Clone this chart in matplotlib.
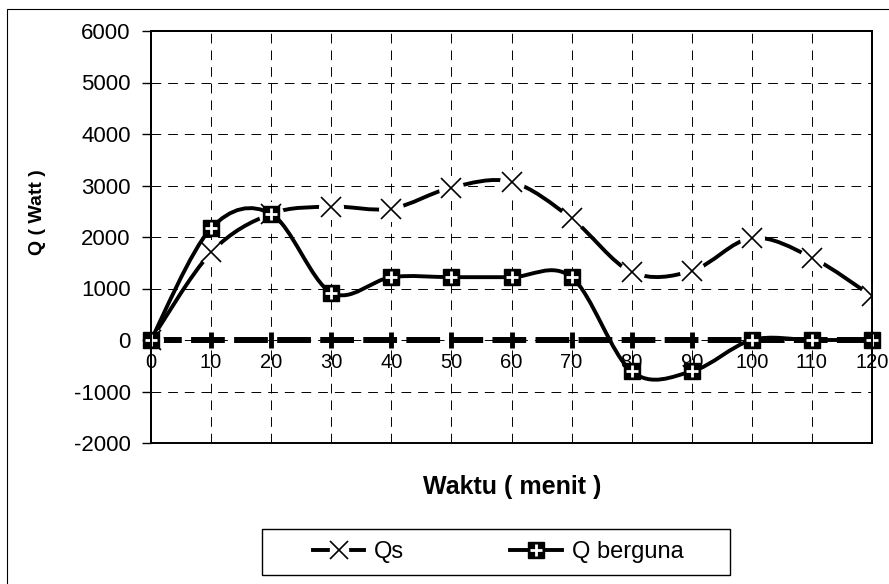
import matplotlib
matplotlib.use("Agg")
import matplotlib.pyplot as plt
from matplotlib.path import Path
from matplotlib.patches import PathPatch, Rectangle
from matplotlib.lines import Line2D

plt.rcParams['font.family'] = ['Liberation Sans', 'DejaVu Sans']
plt.rcParams['lines.scale_dashes'] = False
plt.rcParams['axes.unicode_minus'] = False

waktu = [0, 10, 20, 30, 40, 50, 60, 70, 80, 90, 100, 110, 120]
qs = [0, 1700, 2450, 2590, 2550, 2960, 3070, 2360, 1320, 1340, 1980, 1600, 850]
q_berguna = [0, 2170, 2450, 920, 1220, 1220, 1220, 1220, -610, -610, 0, 0, 0]

y_ticks = [-2000, -1000, 0, 1000, 2000, 3000, 4000, 5000, 6000]

W, H = 889, 584


def smooth_path(xs, ys):
    # bezier through the points, like the "smoothed line" option of a spreadsheet
    pts = list(zip(xs, ys))
    n = len(pts)
    verts = [pts[0]]
    codes = [Path.MOVETO]
    for i in range(n - 1):
        p0 = pts[i - 1] if i > 0 else pts[i]
        p1 = pts[i]
        p2 = pts[i + 1]
        p3 = pts[i + 2] if i + 2 < n else pts[i + 1]
        c1 = (p1[0] + (p2[0] - p0[0]) / 6, p1[1] + (p2[1] - p0[1]) / 6)
        c2 = (p2[0] - (p3[0] - p1[0]) / 6, p2[1] - (p3[1] - p1[1]) / 6)
        verts += [c1, c2, p2]
        codes += [Path.CURVE4] * 3
    return Path(verts, codes)


fig = plt.figure(figsize=(W / 100, H / 100), dpi=100)

# outer chart border (only top and left visible in the picture)
fig.patches.append(
    Rectangle(
        (7 / W, -0.1),
        1.2,
        1.1 - 9 / H,
        transform=fig.transFigure,
        fill=False,
        edgecolor='black',
        linewidth=0.8,
        clip_on=False
    )
)

ax = fig.add_axes([
    151 / W,
    (H - 443) / H,
    (872 - 151) / W,
    (443 - 31) / H
])

ax.set_xlim(0, 120)
ax.set_ylim(-2000, 6000)
ax.set_xticks(waktu)
ax.set_yticks(y_ticks)

ax.grid(
    True,
    color='black',
    linestyle=(0, (7, 5)),
    linewidth=0.7
)

for side in ['top', 'right', 'left']:
    ax.spines[side].set_linewidth(1.4)

# x axis crosses at zero as a thick dashed line
ax.spines['bottom'].set_position(('data', 0))
ax.spines['bottom'].set_linewidth(4.3)
ax.spines['bottom'].set_linestyle((0, (20, 11)))
ax.spines['bottom'].set_zorder(1.6)

ax.add_patch(
    Rectangle(
        (0, 0),
        1,
        1,
        transform=ax.transAxes,
        fill=False,
        edgecolor='black',
        linewidth=1.4,
        clip_on=False,
        zorder=1.7
    )
)

ax.tick_params(
    axis='x',
    direction='inout',
    length=12,
    width=3.5,
    pad=3,
    labelsize=14.5
)

ax.tick_params(
    axis='y',
    direction='out',
    length=6.5,
    width=1,
    pad=8,
    labelsize=16
)

# Qs line with gaps around the X markers
ax.add_patch(
    PathPatch(
        smooth_path(waktu, qs),
        facecolor='none',
        edgecolor='black',
        linewidth=2.8,
        zorder=2
    )
)
ax.plot(
    waktu,
    qs,
    linestyle='none',
    marker='o',
    markersize=18,
    markerfacecolor='white',
    markeredgewidth=0,
    zorder=2.1
)
ax.plot(
    waktu,
    qs,
    linestyle='none',
    marker='x',
    markersize=15,
    markeredgewidth=1.2,
    color='black',
    zorder=2.2
)

# Q berguna
ax.add_patch(
    PathPatch(
        smooth_path(waktu, q_berguna),
        facecolor='none',
        edgecolor='black',
        linewidth=2.8,
        zorder=2.3
    )
)
ax.plot(
    waktu,
    q_berguna,
    linestyle='none',
    marker='s',
    markersize=12,
    markerfacecolor='black',
    markeredgecolor='black',
    zorder=2.4,
    clip_on=False
)
ax.plot(
    waktu,
    q_berguna,
    linestyle='none',
    marker='+',
    markersize=9,
    markeredgewidth=2,
    color='white',
    zorder=2.5,
    clip_on=False
)

fig.text(
    37 / W,
    1 - 212 / H,
    'Q ( Watt )',
    rotation=90,
    ha='center',
    va='center',
    fontsize=14,
    fontweight='bold'
)

fig.text(
    512 / W,
    1 - 487 / H,
    'Waktu ( menit )',
    ha='center',
    va='center',
    fontsize=18,
    fontweight='bold'
)

# legend
fig.patches.append(
    Rectangle(
        (262 / W, 1 - 575 / H),
        (730 - 262) / W,
        (575 - 529) / H,
        transform=fig.transFigure,
        fill=False,
        edgecolor='black',
        linewidth=1.0
    )
)

h_qs = (
    Line2D([], [], color='black', linewidth=2.8),
    Line2D([], [], linestyle='none', marker='o', markersize=14,
           markerfacecolor='white', markeredgewidth=0),
    Line2D([], [], linestyle='none', marker='x', markersize=13,
           markeredgewidth=1.2, color='black'),
)
h_qb = (
    Line2D([], [], color='black', linewidth=2.8),
    Line2D([], [], linestyle='none', marker='s', markersize=11,
           color='black'),
    Line2D([], [], linestyle='none', marker='+', markersize=8,
           markeredgewidth=2, color='white'),
)

fig.legend(
    [h_qs, h_qb],
    ['Qs', 'Q berguna'],
    loc='center',
    bbox_to_anchor=(498 / W, 1 - 552 / H),
    ncol=2,
    frameon=False,
    fontsize=17,
    handlelength=2.2,
    handletextpad=0.4,
    columnspacing=4.5
)

plt.savefig(
    'out.png',
    dpi=100
)

plt.close()
